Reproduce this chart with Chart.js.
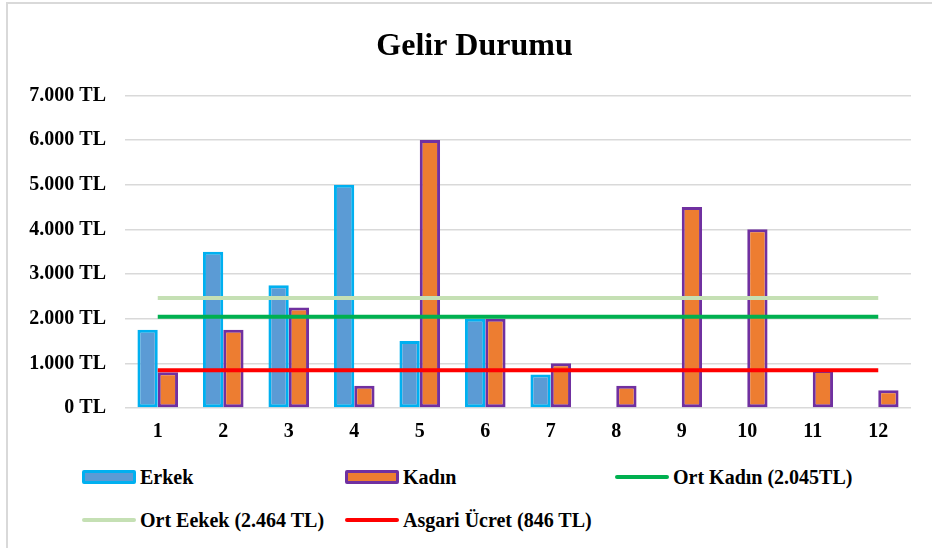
<!DOCTYPE html>
<html>
<head>
<meta charset="utf-8">
<script src="https://cdn.jsdelivr.net/npm/chart.js@4"></script>
<style>
  body { margin: 0; background: #fff; overflow: hidden; }
  #frame { position: absolute; left: 6px; top: 2px; width: 1000px; height: 700px;
           border-left: 2px solid #d9d9d9; border-top: 2px solid #d9d9d9; }
  #wrap { position: absolute; left: 0; top: 0; width: 932px; height: 458px; }
  #legend { position: absolute; left: 0; top: 462px; width: 932px;
            font: bold 20px "Liberation Serif", "Times New Roman", serif; color: #000; }
  .item { position: absolute; display: flex; align-items: center; height: 26px; }
  .sw { display: inline-block; width: 54px; margin-right: 4px; box-sizing: border-box; }
</style>
</head>
<body>
<div id="frame"></div>
<div id="wrap"><canvas id="gelir"></canvas></div>
<div id="legend"></div>
<script>
// aylar / kişiler
const labels = ["1", "2", "3", "4", "5", "6", "7", "8", "9", "10", "11", "12"];
const erkek = [1750, 3500, 2750, 5000, 1500, 2000, 750, 0, 0, 0, 0, 0];
const kadin = [800, 1750, 2250, 500, 6000, 2000, 1000, 500, 4500, 4000, 850, 400];
const ortKadin = 2045;
const ortErkek = 2464;
const asgari = 846;

const serif = '"Liberation Serif", "Times New Roman", serif';

function tl(v) {
  return String(v).replace(/\B(?=(\d{3})+(?!\d))/g, ".") + " TL";
}

// başlık çerçevenin ortasında dursun
const titleShift = {
  id: "titleShift",
  afterLayout(chart) {
    chart.titleBlock.left = 38;
  },
};

const ctx = document.getElementById("gelir").getContext("2d");

const chart = new Chart(ctx, {
  type: "bar",
  data: {
    labels: labels,
    datasets: [
      {
        label: "Erkek",
        data: erkek,
        backgroundColor: "#5b9bd5",
        borderColor: "#00b0f0",
        borderWidth: 3,
        borderSkipped: false,
        order: 1,
      },
      {
        label: "Kadın",
        data: kadin,
        backgroundColor: "#ed7d31",
        borderColor: "#7030a0",
        borderWidth: 3,
        borderSkipped: false,
        order: 1,
      },
      {
        type: "line",
        label: "Ort Kadın (2.045TL)",
        data: labels.map(() => ortKadin),
        borderColor: "#00b050",
        borderWidth: 4,
        pointRadius: 0,
        order: 0,
      },
      {
        type: "line",
        label: "Ort Eekek (2.464 TL)",
        data: labels.map(() => ortErkek),
        borderColor: "#c5e0b4",
        borderWidth: 4,
        pointRadius: 0,
        order: 0,
      },
      {
        type: "line",
        label: "Asgari Ücret (846 TL)",
        data: labels.map(() => asgari),
        borderColor: "#ff0000",
        borderWidth: 4,
        pointRadius: 0,
        order: 0,
      },
    ],
  },
  options: {
    responsive: true,
    maintainAspectRatio: false,
    animation: false,
    datasets: {
      bar: { categoryPercentage: 0.62, barPercentage: 1 },
    },
    layout: { padding: { top: 28, right: 21, bottom: 10, left: 0 } },
    plugins: {
      legend: { display: false },
      tooltip: { enabled: false },
      title: {
        display: true,
        text: "Gelir Durumu",
        color: "#000",
        font: { family: serif, size: 32, weight: "bold" },
        padding: { top: 0, bottom: 29 },
      },
    },
    scales: {
      x: {
        grid: { display: false },
        border: { display: false },
        ticks: {
          color: "#000",
          padding: 4,
          font: { family: serif, size: 20, weight: "bold" },
        },
      },
      y: {
        min: 0,
        max: 7000,
        afterFit: (scale) => { scale.width = 125; },
        border: { display: false },
        grid: { color: "#d9d9d9", lineWidth: 1.5, drawTicks: false },
        ticks: {
          stepSize: 1000,
          color: "#000",
          padding: 19,
          font: { family: serif, size: 20, weight: "bold" },
          callback: (v) => tl(v),
        },
      },
    },
  },
  plugins: [titleShift],
});

// lejant: Excel'deki gibi sütunlu
const legendPos = [
  [82, 2], [345, 2], [615, 2],
  [82, 45], [345, 45],
];
const legendBox = document.getElementById("legend");
chart.data.datasets.forEach((ds, i) => {
  const item = document.createElement("div");
  item.className = "item";
  item.style.left = legendPos[i][0] + "px";
  item.style.top = legendPos[i][1] + "px";
  const sw = document.createElement("span");
  sw.className = "sw";
  if (ds.type === "line") {
    sw.style.height = "4px";
    sw.style.background = ds.borderColor;
    sw.style.borderRadius = "2px";
  } else {
    sw.style.height = "14px";
    sw.style.background = ds.backgroundColor;
    sw.style.border = "3px solid " + ds.borderColor;
    sw.style.borderRadius = "2px";
  }
  item.appendChild(sw);
  item.appendChild(document.createTextNode(ds.label));
  legendBox.appendChild(item);
});
</script>
</body>
</html>
